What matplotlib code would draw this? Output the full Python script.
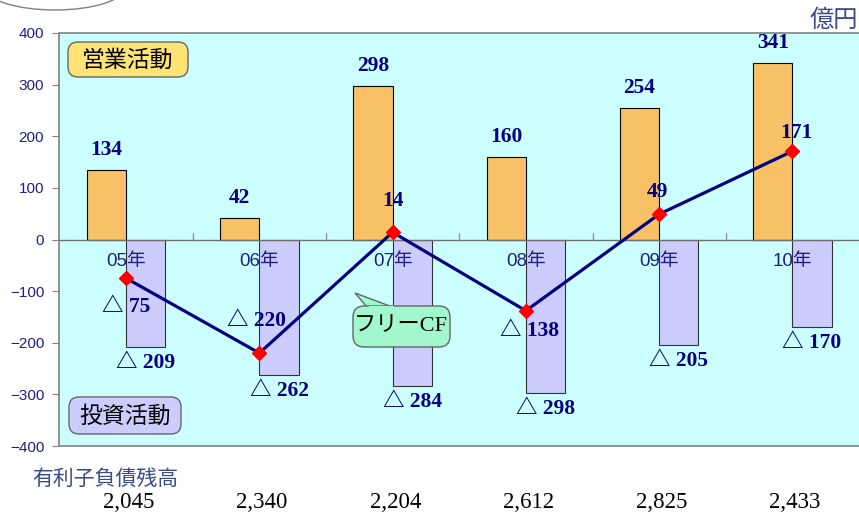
import matplotlib
matplotlib.use("Agg")
import matplotlib.pyplot as plt
from matplotlib.patches import FancyBboxPatch, Polygon, Ellipse
from matplotlib.transforms import IdentityTransform, blended_transform_factory
import numpy as np

# ---- data ----
years = ["05年", "06年", "07年", "08年", "09年", "10年"]
operating_cf = [134, 42, 298, 160, 254, 341]
investing_cf = [-209, -262, -284, -298, -205, -170]
free_cf = [-75, -220, 14, -138, 49, 171]
debt_balance = ["2,045", "2,340", "2,204", "2,612", "2,825", "2,433"]
yticks = [400, 300, 200, 100, 0, -100, -200, -300, -400]

W, H = 859, 518
NAVY = "#000080"
TICK_NAVY = "#1E2080"
SERIF = ["Liberation Serif", "Noto Sans CJK JP", "DejaVu Sans"]
SANS = ["Liberation Sans", "Noto Sans CJK JP", "DejaVu Sans"]
CJK = ["Noto Sans CJK JP", "DejaVu Sans"]

fig = plt.figure(figsize=(W / 100, H / 100), dpi=100)
fig.patch.set_facecolor("white")
ax = fig.add_axes([59.5 / W, 72 / H, 1 - 59.5 / W, 413 / H])
ax.set_facecolor("#CCFFFF")

x = np.arange(len(years))
bw = 0.295
ax.bar(x, operating_cf, width=-bw, align="edge", color="#F8C165",
       edgecolor="black", linewidth=0.8, zorder=2)
ax.bar(x, investing_cf, width=bw, align="edge", color="#CCCCFF",
       edgecolor="#333333", linewidth=0.8, zorder=2)

ax.axhline(0, color="#707070", linewidth=1.0, zorder=3)
ax.vlines(x[:-1] + 0.5, 0, 12, color="#909090", linewidth=1.0, zorder=3)

ax.plot(x, free_cf, color=NAVY, linewidth=2.3, zorder=4)
ax.plot(x, free_cf, linestyle="none", marker="D", markersize=7,
        color="#FF0000", zorder=5)

ax.set_xlim(-0.5, len(years) - 0.5)
ax.set_ylim(-400, 400)
ax.set_yticks(yticks)
ax.set_yticklabels([f"{v}".replace("-", "\u2212") for v in yticks])
ax.set_xticks([])
ax.tick_params(axis="y", direction="out", length=5, color="#808080",
               labelcolor=TICK_NAVY, labelsize=11, pad=6)
for lab in ax.get_yticklabels():
    lab.set_family(SANS)
for s in ["left", "top", "bottom"]:
    ax.spines[s].set_color("#808080")
    ax.spines[s].set_linewidth(1.2)
ax.spines["right"].set_visible(False)

def tri(v):
    return f"\u25b3 {abs(v)}" if v < 0 else f"{v}"

# category labels
for i, yr in enumerate(years):
    ax.annotate(yr, (i, 0), xytext=(0, -22), textcoords="offset pixels",
                ha="center", va="center", fontsize=13.5, color=TICK_NAVY,
                family=SANS, zorder=6)

# operating labels
for i, v in enumerate(operating_cf):
    ax.annotate(tri(v), (i - bw / 2, v), xytext=(0, 10), textcoords="offset pixels",
                ha="center", va="bottom", fontsize=15.5, fontweight="bold",
                color=NAVY, family=SERIF, zorder=6)

# investing labels
for i, v in enumerate(investing_cf):
    ax.annotate(tri(v), (i + bw / 2, v), xytext=(0, -6), textcoords="offset pixels",
                ha="center", va="top", fontsize=15.5, fontweight="bold",
                color=NAVY, family=SERIF, zorder=6)

# free CF labels
fcf_offsets = [(0, -29), (-3, 32), (0, 31), (4, -20), (-2, 22), (4, 18)]
for i, v in enumerate(free_cf):
    dx, dy = fcf_offsets[i]
    ax.annotate(tri(v), (i, v), xytext=(dx, dy), textcoords="offset pixels",
                ha="center", va="center", fontsize=15.5, fontweight="bold",
                color=NAVY, family=SERIF, zorder=6)

# legend boxes drawn in pixel space (top-left origin helpers)
px = IdentityTransform()

def pbox(x0, y0, x1, y1, fc, r=10):
    p = FancyBboxPatch((x0, H - y1), x1 - x0, y1 - y0,
                       boxstyle=f"round,pad=0,rounding_size={r}",
                       transform=px, fc=fc, ec="#666666", lw=1.0, zorder=7)
    fig.patches.append(p)

def ptext(cx, cy, s, size, fam, **kw):
    fig.text(cx / W, 1 - cy / H, s, ha="center", va="center", fontsize=size,
             family=fam, color="black", zorder=8, **kw)

pbox(68, 42, 188, 77, "#FFE375")
ptext(128, 60, "営業活動", 16.5, CJK)
pbox(69, 397, 181, 434, "#CCCCFF")
ptext(125, 416, "投資活動", 16.5, CJK)

tail = Polygon([(355, H - 293), (368, H - 308), (395, H - 308)], closed=True,
               transform=px, fc="#A0F8CC", ec="#666666", lw=1.0, zorder=7)
fig.patches.append(tail)
pbox(353, 306, 450, 347, "#A0F8CC", r=11)
tail2 = Polygon([(369, H - 307.5), (394, H - 307.5), (394, H - 305.5), (369, H - 305.5)],
                closed=True, transform=px, fc="#A0F8CC", ec="none", zorder=7.5)
fig.patches.append(tail2)
ptext(401, 327, "フリーCF", 16, SERIF)

# unit
fig.text(858 / W, 1 - 20 / H, "億円", ha="right", va="center",
         fontsize=17.5, color="#3A4A8A", family=CJK)

# debt balance
fig.text(32 / W, 1 - 479 / H, "有利子負債残高", ha="left", va="center",
         fontsize=15, color="#3A4A8A", family=CJK)
trans = blended_transform_factory(ax.transData, fig.transFigure)
for i, d in enumerate(debt_balance):
    ax.text(i + 0.02, 1 - 503 / H, d, transform=trans, ha="center",
            va="center", fontsize=16.5, color="black", family=SERIF, clip_on=False)

# decorative arc at top-left
arc = Ellipse((55 / W, 1 + 12.7 / H), 140 / W, 45.4 / H,
              transform=fig.transFigure, fill=False, ec="#808080", lw=1.0)
fig.patches.append(arc)

fig.savefig("out.png", dpi=100)
